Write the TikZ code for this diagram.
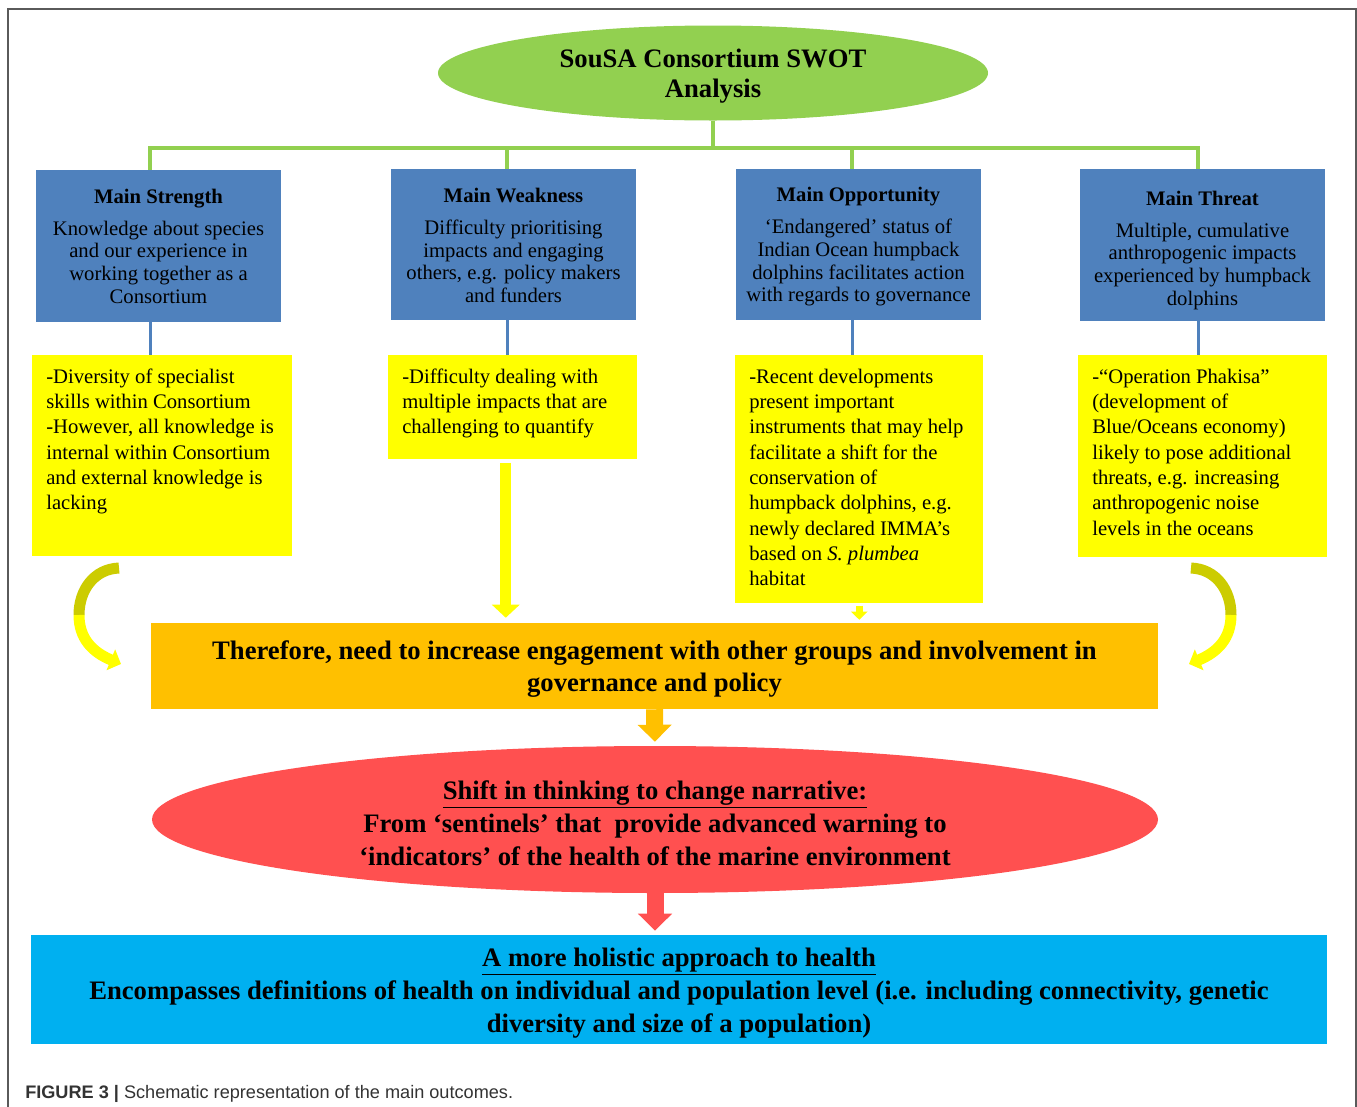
\documentclass[tikz,border=0pt]{standalone}
\usepackage{fontspec}
\setmainfont{Liberation Serif}
\newfontfamily\capfont{Liberation Sans}
\usetikzlibrary{shapes.geometric,arrows.meta,calc}
\definecolor{cgreen}{HTML}{92D050}
\definecolor{cblue}{HTML}{4F81BD}
\definecolor{cyellow}{HTML}{FFFF00}
\definecolor{cdarkyellow}{HTML}{CCCC00}
\definecolor{corange}{HTML}{FFC000}
\definecolor{cred}{HTML}{FF5050}
\definecolor{ccyan}{HTML}{00B0F0}
\definecolor{cframe}{HTML}{5A5A5A}
\definecolor{ccap}{HTML}{333333}
\newcommand{\ytext}[3]{\begin{minipage}[c][#2][t]{#1}\raggedright\leftskip=10.5pt\rule{0pt}{21pt}#3\end{minipage}}
\newcommand{\lift}[1]{\rule{0pt}{#1}}
\tikzset{
  bluebox/.style={fill=cblue, minimum width=183.75pt, inner sep=0pt, align=center, text depth=0pt, font=\fontsize{15.5}{17}\selectfont},
  ybox/.style={fill=cyellow, inner sep=0pt, anchor=north west, font=\fontsize{15.5}{19}\selectfont},
  bigtext/.style={font=\bfseries\fontsize{20}{24.5}\selectfont, align=center, inner sep=0pt},
  gline/.style={draw=cgreen, line width=3pt},
  bline/.style={draw=cblue, line width=2.25pt},
  yarrow/.style={draw=cyellow, line width=8.25pt, -{Triangle[width=20.25pt, length=9.75pt]}},
  ysmall/.style={draw=cyellow, line width=5.25pt, -{Triangle[width=12pt, length=6pt]}},
  oarrow/.style={draw=corange, line width=12.75pt, -{Triangle[width=24.75pt, length=12.75pt]}},
  rarrow/.style={draw=cred, line width=12.75pt, -{Triangle[width=24.75pt, length=12.75pt]}},
  carrowtop/.style={draw=cdarkyellow, line width=8.25pt},
  carrowbot/.style={draw=cyellow, line width=8.25pt, -{Triangle[width=16.5pt, length=8.25pt]}},
}
\begin{document}
\begin{tikzpicture}[x=0.75pt,y=-0.75pt]
\useasboundingbox (0,0) rectangle (1357,1107);
\fill[white] (0,0) rectangle (1357,1107);
\draw[cframe, line width=1.2pt] (8,1107) -- (8,9) -- (1356,9) -- (1356,1107);

% title
\node[ellipse, fill=cgreen, minimum width=412.5pt, minimum height=71.25pt, inner sep=0pt, align=center,
      font=\bfseries\fontsize{20}{22.5}\selectfont] (title) at (713,73) {\lift{18.5pt}SouSA Consortium SWOT\\Analysis};

% blue boxes
\node[bluebox, minimum height=114pt] (sb) at (158.5,246)
  {\textbf{Main Strength}\\[7pt]Knowledge about species\\and our experience in\\working together as a\\Consortium};
\node[bluebox, minimum height=113.25pt] (wb) at (513.5,244.5)
  {\lift{12pt}\textbf{Main Weakness}\\[7pt]Difficulty prioritising\\impacts and engaging\\others, e.g. policy makers\\and funders};
\node[bluebox, minimum height=113.25pt] (pb) at (858.5,244.5)
  {\textbf{Main Opportunity}\\[7pt]‘Endangered’ status of\\Indian Ocean humpback\\dolphins facilitates action\\with regards to governance};
\node[bluebox, minimum height=114pt] (tb) at (1202.5,245)
  {\lift{15pt}\textbf{Main Threat}\\[7pt]Multiple, cumulative\\anthropogenic impacts\\experienced by humpback\\dolphins};

% green bus
\coordinate (busL) at (150,148);
\coordinate (bus2) at (507,148);
\coordinate (bus3) at (852,148);
\coordinate (busR) at (1198,148);
\draw[gline] (title.south) -- (title.south |- busL);
\draw[gline] (busL |- sb.north) -- (busL) -- (busR) -- (busR |- tb.north);
\draw[gline] (bus2) -- (bus2 |- wb.north);
\draw[gline] (bus3) -- (bus3 |- pb.north);

% yellow boxes
\node[ybox] (y1) at (32,355) {\ytext{195pt}{150.75pt}{-Diversity of specialist\\skills within Consortium\\-However, all knowledge is\\internal within Consortium\\and external knowledge is\\lacking}};
\node[ybox] (y2) at (388,355) {\ytext{186.75pt}{78pt}{-Difficulty dealing with\\multiple impacts that are\\challenging to quantify}};
\node[ybox] (y3) at (735,355) {\ytext{186pt}{186pt}{-Recent developments\\present important\\instruments that may help\\facilitate a shift for the\\conservation of\\humpback dolphins, e.g.\\newly declared IMMA’s\\based on \textit{S. plumbea}\\habitat}};
\node[ybox] (y4) at (1078,355) {\ytext{186.75pt}{151.5pt}{-“Operation Phakisa”\\(development of\\Blue/Oceans economy)\\likely to pose additional\\threats, e.g. increasing\\anthropogenic noise\\levels in the oceans}};

% blue connectors
\draw[bline] (busL |- sb.south) -- (busL |- y1.north);
\draw[bline] (bus2 |- wb.south) -- (bus2 |- y2.north);
\draw[bline] (bus3 |- pb.south) -- (bus3 |- y3.north);
\draw[bline] (busR |- tb.south) -- (busR |- y4.north);

% orange box
\node[fill=corange, minimum width=755.25pt, minimum height=64.5pt, bigtext] (ob) at (654.5,666)
  {\lift{18.5pt}Therefore, need to increase engagement with other groups and involvement in\\governance and policy};

% red ellipse
\node[ellipse, fill=cred, minimum width=754.5pt, minimum height=110.25pt, bigtext] (re) at (655,819.5)
  {\lift{19.5pt}\underline{Shift in thinking to change narrative:}\\From ‘sentinels’ that~ provide advanced warning to\\‘indicators’ of the health of the marine environment};

% cyan box
\node[fill=ccyan, minimum width=972pt, minimum height=81.75pt, bigtext] (cb) at (679,989.5)
  {\lift{19.5pt}\underline{A more holistic approach to health}\\Encompasses definitions of health on individual and population level (i.e. including connectivity, genetic\\diversity and size of a population)};

% straight arrows
\coordinate (ya) at ($(y2.south)+(-7,0)$);
\draw[yarrow, shorten <=2.25pt, shorten >=3.75pt] (ya) -- (ya |- ob.north);
\draw[ysmall, shorten <=1.5pt, shorten >=2.25pt] (y3.south) -- (y3.south |- ob.north);
\draw[oarrow, shorten >=3pt] (ob.south) -- (re.north);
\draw[rarrow, shorten >=3pt] (re.south) -- (re.south |- cb.north);

% curved arrows
\coordinate (la) at (119,568);
\coordinate (lm) at (79,615);
\coordinate (lt) at (121,664);
\draw[carrowtop] (la) .. controls (94,569) and (79,590) .. (lm);
\draw[carrowbot] (lm) .. controls (79,638) and (92,652) .. (lt);
\coordinate (ra) at (1191,568);
\coordinate (rm) at (1231,615);
\coordinate (rt) at (1189,664);
\draw[carrowtop] (ra) .. controls (1216,569) and (1231,590) .. (rm);
\draw[carrowbot] (rm) .. controls (1231,638) and (1218,652) .. (rt);

% caption
\node[anchor=west, inner sep=0pt, text=ccap, font=\capfont\fontsize{13.6}{16}\selectfont] (cap) at (25,1094)
  {\textbf{FIGURE 3 |} Schematic representation of the main outcomes.};
\end{tikzpicture}
\end{document}
